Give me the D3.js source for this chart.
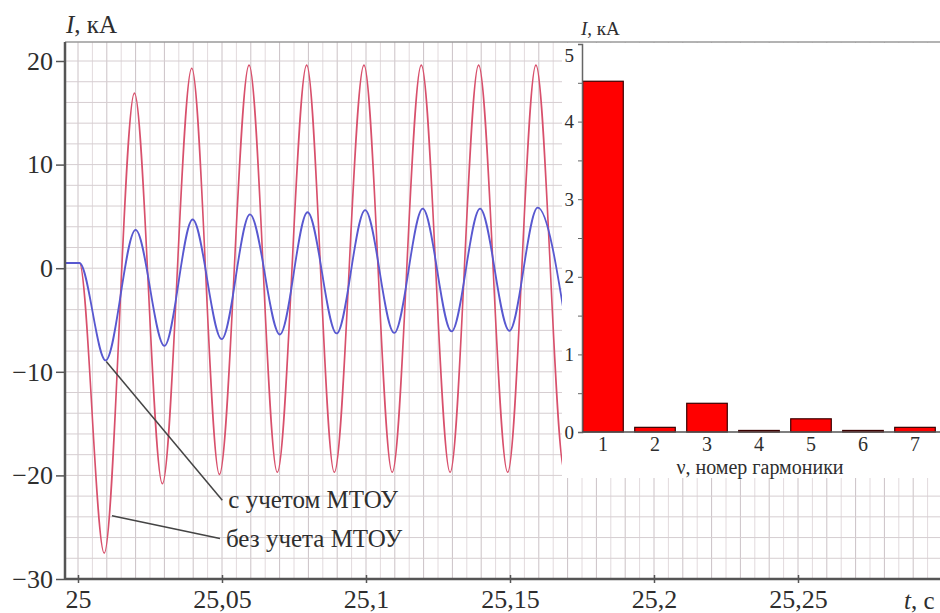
<!DOCTYPE html>
<html>
<head>
<meta charset="utf-8">
<script src="https://cdn.jsdelivr.net/npm/d3@7"></script>
<style>
body { margin: 0; background: #fff; }
svg text { font-family: "Liberation Serif", "Times New Roman", serif; fill: #2e2e2e; }
</style>
</head>
<body>
<script>
// current without MTOU (red) - extremes
let tNo = [24.9955, 25.0005, 25.0091, 25.0196, 25.0293, 25.0395, 25.0491, 25.0594, 25.0692, 25.0794, 25.0890, 25.0993, 25.1091, 25.1192, 25.1292, 25.1391, 25.1492, 25.1590, 25.1690, 25.1790]
let iNo = [0.5, 0.5, -27.5, 16.9, -20.8, 19.3, -19.9, 19.6, -19.7, 19.6, -19.7, 19.6, -19.7, 19.6, -19.7, 19.6, -19.7, 19.6, -19.7, 19.6]

// current with MTOU (blue)
let tWith = [24.9955, 25.0005, 25.0096, 25.0200, 25.0300, 25.0398, 25.0499, 25.0597, 25.0701, 25.0797, 25.0898, 25.0997, 25.1098, 25.1197, 25.1297, 25.1396, 25.1498, 25.1596, 25.1697]
let iWith = [0.5, 0.5, -8.9, 3.7, -7.5, 4.7, -6.85, 5.2, -6.4, 5.4, -6.3, 5.6, -6.25, 5.75, -6.1, 5.75, -6.05, 5.85, -6.0]

let xTicks = [25, 25.05, 25.1, 25.15, 25.2, 25.25]
let yTicks = [-30, -20, -10, 0, 10, 20]

// harmonic spectrum (inset)
let harmonics = [1, 2, 3, 4, 5, 6, 7]
let amps = [4.52, 0.06, 0.37, 0.02, 0.17, 0.02, 0.06]
let ampTicks = [0, 1, 2, 3, 4, 5]

let W = 940, H = 613

let svg = d3.select('body').append('svg')
    .attr('width', W)
    .attr('height', H)

let ru = d3.formatLocale({ decimal: ',', thousands: ' ', grouping: [3], currency: ['', ''], minus: '\u2212' })

// main scales
let xScale = d3.scaleLinear()
    .domain([25, 25.25])
    .range([78, 798])
let yScale = d3.scaleLinear()
    .domain([-30, 20])
    .range([579, 61])

let tMin = xScale.invert(65), tMax = xScale.invert(940)
let yMax = yScale.invert(42)

/******** grid ********/
let grid = svg.append('g')
for (let k = 0; k * 0.005 + 25 <= tMax; k++) {
    let t = 25 + k * 0.005
    grid.append('line')
        .attr('x1', xScale(t)).attr('x2', xScale(t))
        .attr('y1', yScale(yMax)).attr('y2', yScale(-30))
        .attr('stroke', k % 2 == 0 ? '#cbc2c6' : '#e2dadd')
        .attr('stroke-width', 1)
}
for (let v = -28; v <= 20; v += 2) {
    grid.append('line')
        .attr('x1', xScale(tMin)).attr('x2', xScale(tMax))
        .attr('y1', yScale(v)).attr('y2', yScale(v))
        .attr('stroke', '#d6ced1')
        .attr('stroke-width', 1)
}

/******** curves ********/
svg.append('clipPath').attr('id', 'plot')
    .append('rect')
    .attr('x', xScale(tMin)).attr('y', yScale(yMax))
    .attr('width', xScale(tMax) - xScale(tMin))
    .attr('height', yScale(-30) - yScale(yMax))

let line = d3.line()
    .x(d => xScale(d[0]))
    .y(d => yScale(d[1]))
    .curve(d3.curveMonotoneX)

svg.append('path')
    .datum(tNo.map((t, i) => [t, iNo[i]]))
    .attr('clip-path', 'url(#plot)')
    .attr('d', line)
    .attr('fill', 'none')
    .attr('stroke', '#d8506c')
    .attr('stroke-width', 1.6)

svg.append('path')
    .datum(tWith.map((t, i) => [t, iWith[i]]))
    .attr('clip-path', 'url(#plot)')
    .attr('d', line)
    .attr('fill', 'none')
    .attr('stroke', '#5858d0')
    .attr('stroke-width', 1.8)

/******** annotations ********/
let notes = [
    { from: [25.0098, -9.0], to: [25.0501, -22.4], text: 'с учетом МТОУ' },
    { from: [25.0118, -23.9], to: [25.0493, -26.1], text: 'без учета МТОУ' }
]
notes.forEach(n => {
    svg.append('line')
        .attr('x1', xScale(n.from[0])).attr('y1', yScale(n.from[1]))
        .attr('x2', xScale(n.to[0])).attr('y2', yScale(n.to[1]))
        .attr('stroke', '#444')
        .attr('stroke-width', 1.5)
    svg.append('text')
        .attr('x', xScale(n.to[0]) + 6)
        .attr('y', yScale(n.to[1]) + 8)
        .attr('font-size', 25)
        .text(n.text)
})

/******** main axes ********/
svg.append('line')
    .attr('x1', xScale(tMin)).attr('x2', xScale(tMax))
    .attr('y1', yScale(yMax)).attr('y2', yScale(yMax))
    .attr('stroke', '#9a9a9a').attr('stroke-width', 1.5)

let yAxis = d3.axisLeft(yScale)
    .tickValues(yTicks)
    .tickSize(9)
    .tickPadding(3)
    .tickFormat(ru.format('d'))
let gy = svg.append('g')
    .attr('transform', `translate(${xScale(tMin)},0)`)
    .call(yAxis)
gy.select('.domain').remove()
gy.selectAll('line').attr('stroke', '#555').attr('stroke-width', 1.5)
gy.selectAll('text').attr('font-size', 26).attr('fill', '#2e2e2e')
    .attr('font-family', '"Liberation Serif", serif')

let xAxis = d3.axisBottom(xScale)
    .tickValues(xTicks)
    .tickSize(4)
    .tickPadding(7)
    .tickFormat(ru.format('.3~f'))
let gx = svg.append('g')
    .attr('transform', `translate(0,${yScale(-30)})`)
    .call(xAxis)
gx.select('.domain').remove()
gx.selectAll('line').attr('stroke', '#555').attr('stroke-width', 1.5).attr('y1', -4)
gx.selectAll('text').attr('font-size', 26).attr('fill', '#2e2e2e')
    .attr('font-family', '"Liberation Serif", serif')

svg.append('line')
    .attr('x1', xScale(tMin)).attr('x2', xScale(tMin))
    .attr('y1', yScale(yMax)).attr('y2', yScale(-30) + 1)
    .attr('stroke', '#555').attr('stroke-width', 2.5)
svg.append('line')
    .attr('x1', xScale(tMin)).attr('x2', xScale(tMax))
    .attr('y1', yScale(-30)).attr('y2', yScale(-30))
    .attr('stroke', '#555').attr('stroke-width', 2.5)

let yTitle = svg.append('text').attr('x', 66).attr('y', 33).attr('font-size', 25)
yTitle.append('tspan').attr('font-style', 'italic').text('I')
yTitle.append('tspan').text(', кА')

let xTitle = svg.append('text').attr('x', 904).attr('y', 609).attr('font-size', 25)
xTitle.append('tspan').attr('font-style', 'italic').text('t')
xTitle.append('tspan').text(', c')

/******** inset: harmonics ********/
svg.append('rect')
    .attr('x', 562).attr('y', 43)
    .attr('width', W - 562).attr('height', 478 - 43)
    .attr('fill', '#fff')

let hx = d3.scaleBand()
    .domain(harmonics)
    .range([577, 941])
    .paddingInner(0.22)
    .paddingOuter(0.11)
let hy = d3.scaleLinear()
    .domain([0, 5])
    .range([432, 44])

svg.selectAll('.bar')
    .data(harmonics)
    .enter()
    .append('rect')
        .attr('class', 'bar')
        .attr('x', d => hx(d))
        .attr('y', (d, i) => hy(amps[i]))
        .attr('width', hx.bandwidth())
        .attr('height', (d, i) => hy(0) - hy(amps[i]))
        .attr('fill', '#ff0000')
        .attr('stroke', '#3a0000')
        .attr('stroke-width', 1.2)

let hyAxis = d3.axisLeft(hy)
    .tickValues(d3.range(0, 5.01, 0.5))
    .tickSize(4)
    .tickPadding(4)
    .tickFormat(d => ampTicks.includes(d) ? String(d) : '')
let ghy = svg.append('g')
    .attr('transform', 'translate(582,0)')
    .call(hyAxis)
ghy.select('.domain').attr('stroke', '#666').attr('stroke-width', 1.5)
ghy.selectAll('line').attr('stroke', '#666')
ghy.selectAll('text').attr('font-size', 19).attr('fill', '#555')
    .attr('font-family', '"Liberation Serif", serif')
    .attr('dy', d => d == 5 ? '0.9em' : '0.32em')

let hxAxis = d3.axisBottom(hx)
    .tickSize(0)
    .tickPadding(5)
let ghx = svg.append('g')
    .attr('transform', 'translate(0,432)')
    .call(hxAxis)
ghx.select('.domain').remove()
ghx.selectAll('text').attr('font-size', 20).attr('fill', '#444')
    .attr('font-family', '"Liberation Serif", serif')
svg.append('line')
    .attr('x1', 582).attr('x2', W)
    .attr('y1', 432).attr('y2', 432)
    .attr('stroke', '#555').attr('stroke-width', 1.5)

svg.append('text')
    .attr('x', 760).attr('y', 474)
    .attr('text-anchor', 'middle')
    .attr('font-size', 20)
    .text('ν, номер гармоники')

let hTitle = svg.append('text').attr('x', 581).attr('y', 35).attr('font-size', 19)
hTitle.append('tspan').attr('font-style', 'italic').text('I')
hTitle.append('tspan').text(', кА')
</script>
</body>
</html>
